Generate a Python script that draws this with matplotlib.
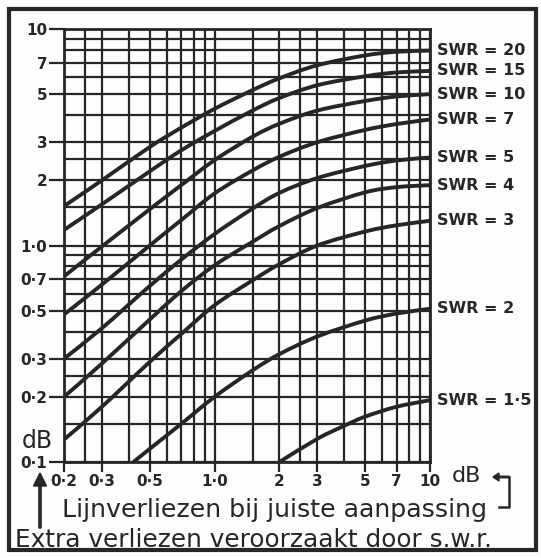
import numpy as np
import matplotlib.pyplot as plt
from matplotlib.patches import Rectangle, FancyArrow, PathPatch
from matplotlib.path import Path
from matplotlib.lines import Line2D
from matplotlib.ticker import FixedLocator, FixedFormatter, NullLocator
import matplotlib.transforms as mtransforms

# lijnverlies bij aanpassing (dB) en extra verlies door SWR (dB)
x_loss = [0.2, 0.3, 0.5, 0.7, 1.0, 1.5, 2, 3, 5, 7, 10]
swr20 = [1.52, 2.0, 2.85, 3.5, 4.28, 5.22, 5.92, 6.8, 7.55, 7.85, 7.95]
swr15 = [1.18, 1.55, 2.2, 2.75, 3.38, 4.2, 4.8, 5.5, 6.05, 6.3, 6.4]
swr10 = [0.72, 0.99, 1.47, 1.9, 2.48, 3.18, 3.65, 4.2, 4.65, 4.88, 5.0]
swr7 = [0.48, 0.66, 1.0, 1.31, 1.74, 2.22, 2.57, 3.0, 3.42, 3.64, 3.82]
swr5 = [0.30, 0.415, 0.65, 0.86, 1.13, 1.48, 1.75, 2.05, 2.33, 2.47, 2.55]
swr4 = [0.2, 0.285, 0.455, 0.615, 0.81, 1.04, 1.23, 1.49, 1.76, 1.86, 1.9]
swr3 = [0.127, 0.18, 0.29, 0.39, 0.53, 0.69, 0.82, 1.0, 1.16, 1.24, 1.3]
x_swr2 = [0.42, 0.5, 0.7, 1.0, 1.5, 2, 3, 5, 7, 10]
swr2 = [0.1, 0.115, 0.15, 0.2, 0.265, 0.315, 0.38, 0.45, 0.485, 0.51]
x_swr1_5 = [2, 3, 4, 5, 7, 10]
swr1_5 = [0.1, 0.128, 0.147, 0.162, 0.180, 0.193]

curves = [
    ('20', x_loss, swr20), ('15', x_loss, swr15), ('10', x_loss, swr10),
    ('7', x_loss, swr7), ('5', x_loss, swr5), ('4', x_loss, swr4),
    ('3', x_loss, swr3), ('2', x_swr2, swr2), ('1·5', x_swr1_5, swr1_5),
]

# rasterlijnen en getallen langs de assen
grid_vals = [0.1, 0.15, 0.2, 0.25, 0.3, 0.4, 0.5, 0.6, 0.7, 0.8, 0.9,
             1, 1.5, 2, 2.5, 3, 4, 5, 6, 7, 8, 9, 10]
x_ticks = [0.2, 0.3, 0.5, 1, 2, 3, 5, 7, 10]
x_ticklabels = ['0·2', '0·3', '0·5', '1·0', '2', '3', '5', '7', '10']
y_ticks = [0.1, 0.2, 0.3, 0.5, 0.7, 1, 2, 3, 5, 7, 10]
y_ticklabels = ['0·1', '0·2', '0·3', '0·5', '0·7', '1·0', '2', '3', '5', '7', '10']

ink = '#262626'
paper = '#fdfdfb'
W, H = 541, 558


def fpos(x, y):
    # pixel (vanaf linksboven) -> figuurcoordinaten
    return x / W, 1 - y / H


def smooth_path(xs, ys):
    # vloeiende kromme door de punten (Catmull-Rom als Bezier, in log-ruimte)
    p = np.column_stack([np.log10(xs), np.log10(ys)])
    n = len(p)
    verts = [p[0]]
    codes = [Path.MOVETO]
    for i in range(n - 1):
        a = p[max(i - 1, 0)]
        d = p[min(i + 2, n - 1)]
        verts += [p[i] + (p[i + 1] - a) / 6, p[i + 1] - (d - p[i]) / 6, p[i + 1]]
        codes += [Path.CURVE4] * 3
    return Path(10 ** np.array(verts), codes)


fig = plt.figure(figsize=(W / 100, H / 100), dpi=100)
fig.patch.set_facecolor(paper)

left, top, right, bottom = 64, 29, 430, 462
ax = fig.add_axes([left / W, 1 - bottom / H, (right - left) / W, (bottom - top) / H])
ax.set_facecolor(paper)
ax.set_xscale('log')
ax.set_yscale('log')
ax.set_xlim(0.2, 10)
ax.set_ylim(0.1, 10)

for v in grid_vals:
    if v >= 0.2:
        ax.axvline(v, color=ink, lw=1.6, zorder=1)
    ax.axhline(v, color=ink, lw=1.6, zorder=1)

label_tf = mtransforms.blended_transform_factory(ax.transAxes, ax.transData)
for name, xs, ys in curves:
    ax.add_patch(PathPatch(smooth_path(xs, ys), facecolor='none', edgecolor=ink,
                           lw=2.8, joinstyle='round', zorder=3))
    ax.text(1.018, ys[-1], f'SWR = {name}', transform=label_tf,
            ha='left', va='center', fontsize=11.5, fontweight='bold', color=ink)

for s in ax.spines.values():
    s.set_color(ink)
    s.set_linewidth(2)

ax.xaxis.set_major_locator(FixedLocator(x_ticks))
ax.xaxis.set_major_formatter(FixedFormatter(x_ticklabels))
ax.yaxis.set_major_locator(FixedLocator(y_ticks))
ax.yaxis.set_major_formatter(FixedFormatter(y_ticklabels))
ax.xaxis.set_minor_locator(NullLocator())
ax.yaxis.set_minor_locator(NullLocator())
ax.tick_params(axis='x', direction='out', length=7, width=1.6, color=ink, pad=2,
               labelsize=11, labelcolor=ink)
ax.tick_params(axis='y', direction='out', length=11, width=1.6, color=ink, pad=1,
               labelsize=11, labelcolor=ink)
for lab in ax.get_xticklabels() + ax.get_yticklabels():
    lab.set_fontweight('bold')

# eenheden
fig.text(*fpos(37, 441), 'dB', ha='center', va='center', fontsize=17, color=ink)
fig.text(*fpos(466, 476), 'dB', ha='center', va='center', fontsize=16, color=ink)

# bijschriften
fig.text(*fpos(62, 510), 'Lijnverliezen bij juiste aanpassing', ha='left', va='center',
         fontsize=18.2, color=ink)
fig.text(*fpos(15, 540), 'Extra verliezen veroorzaakt door s.w.r.', ha='left', va='center',
         fontsize=17.8, color=ink)

# pijl omhoog naar de y-as
x0, y0 = fpos(40, 528)
x1, y1 = fpos(40, 473)
fig.patches.append(FancyArrow(x0, y0, 0, y1 - y0, width=2.2 / W, head_width=13 / W,
                              head_length=13 / H, length_includes_head=True,
                              color=ink, transform=fig.transFigure))

# haak van "dB" naar de onderste regel
bx = [fpos(509, 477), fpos(509, 507), fpos(499, 507)]
fig.lines.append(Line2D([p[0] for p in bx], [p[1] for p in bx], color=ink, lw=1.8,
                        transform=fig.transFigure))
ax0, ay0 = fpos(509, 477)
ax1, _ = fpos(493, 477)
fig.patches.append(FancyArrow(ax0, ay0, ax1 - ax0, 0, width=1.6 / H, head_width=8 / H,
                              head_length=6 / W, length_includes_head=True,
                              color=ink, transform=fig.transFigure))

# kader rond de figuur
fx, fy = fpos(9, 550)
fig.patches.append(Rectangle((fx, fy), (536 - 9) / W, (550 - 9) / H, fill=False,
                             edgecolor=ink, lw=3, transform=fig.transFigure))

fig.savefig('out.png', dpi=100, facecolor=fig.get_facecolor())
